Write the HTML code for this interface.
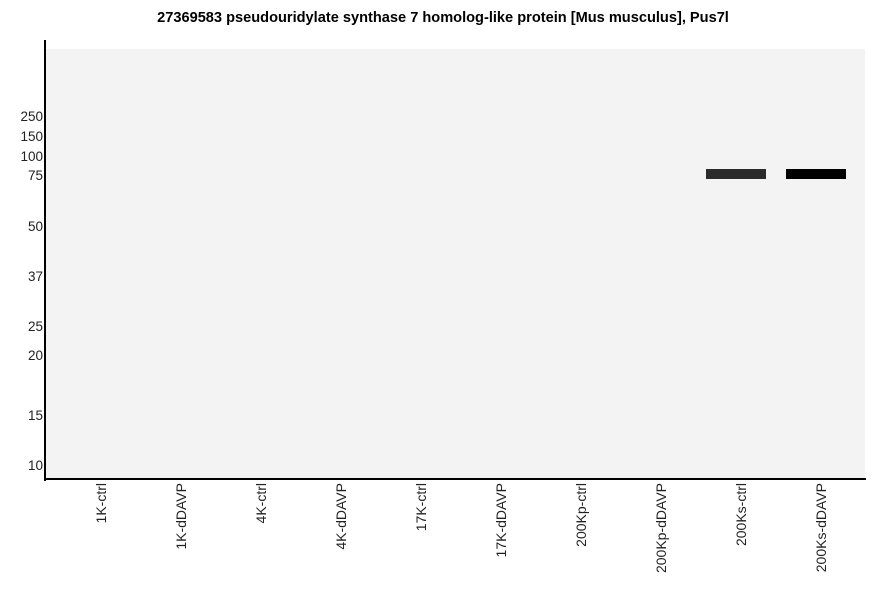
<!DOCTYPE html>
<html><head><style>
body{margin:0;background:#fff;width:886px;height:595px;position:relative;overflow:hidden;font-family:"Liberation Sans",sans-serif}
.t{position:absolute;left:0;width:886px;top:10px;text-align:center;font-weight:bold;font-size:14.6px}
.y{position:absolute;right:843px;font-size:13.5px;line-height:14px;color:#222}
.x{position:absolute;top:483px;font-size:14px;line-height:14px;color:#222;transform-origin:0 0;transform:rotate(-90deg) translateX(-100%);white-space:nowrap}
</style></head><body>
<div class="t">27369583 pseudouridylate synthase 7 homolog-like protein [Mus musculus], Pus7l</div>
<div style="position:absolute;left:46px;top:49px;width:819px;height:430px;background:#f3f3f3"></div>
<div style="position:absolute;left:44px;top:40px;width:2px;height:441px;background:#000"></div>
<div style="position:absolute;left:44px;top:478px;width:822px;height:2px;background:#000"></div>
<div style="position:absolute;left:706px;top:169px;width:60px;height:10px;background:#2a2a2a"></div>
<div style="position:absolute;left:786px;top:169px;width:60px;height:10px;background:#000"></div>
<div class="y" style="top:110px">250</div>
<div class="y" style="top:130px">150</div>
<div class="y" style="top:150px">100</div>
<div class="y" style="top:169px">75</div>
<div class="y" style="top:220px">50</div>
<div class="y" style="top:270px">37</div>
<div class="y" style="top:320px">25</div>
<div class="y" style="top:349px">20</div>
<div class="y" style="top:409px">15</div>
<div class="y" style="top:459px">10</div>
<div class="x" style="left:94px">1K-ctrl</div>
<div class="x" style="left:174px">1K-dDAVP</div>
<div class="x" style="left:254px">4K-ctrl</div>
<div class="x" style="left:334px">4K-dDAVP</div>
<div class="x" style="left:414px">17K-ctrl</div>
<div class="x" style="left:494px">17K-dDAVP</div>
<div class="x" style="left:574px">200Kp-ctrl</div>
<div class="x" style="left:654px">200Kp-dDAVP</div>
<div class="x" style="left:734px">200Ks-ctrl</div>
<div class="x" style="left:814px">200Ks-dDAVP</div>
</body></html>
